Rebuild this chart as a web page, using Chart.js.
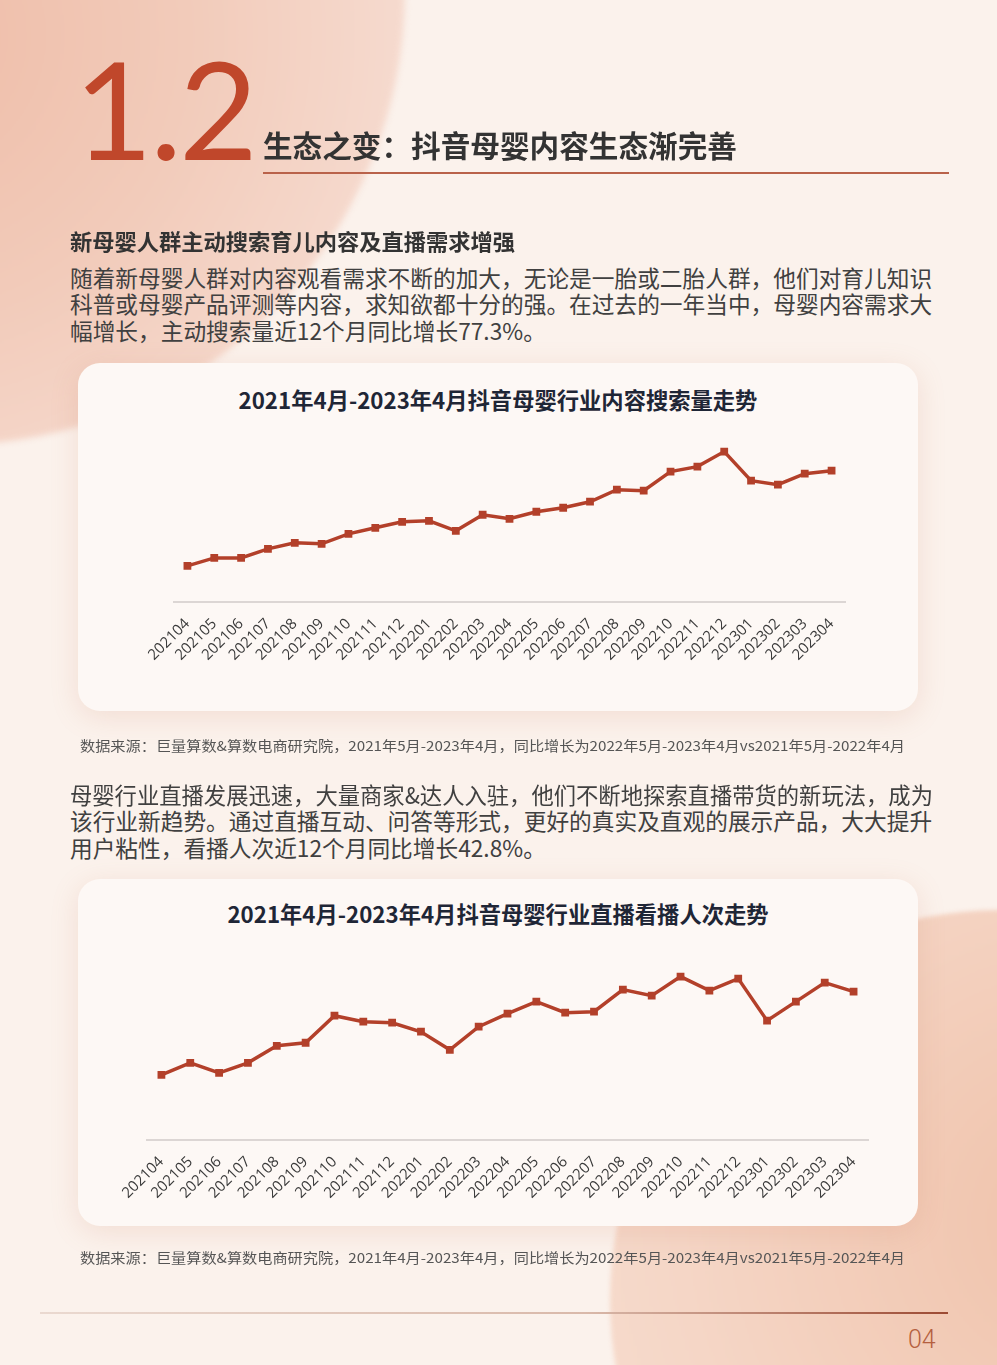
<!DOCTYPE html>
<html lang="zh-CN">
<head>
<meta charset="UTF-8" />
<title>抖音母婴内容生态</title>
<script src="https://cdn.jsdelivr.net/npm/chart.js"></script>
<style>
  html, body { margin: 0; padding: 0; }
  body {
    width: 997px; height: 1365px; position: relative; overflow: hidden;
    background: #fbf2ec;
    font-family: "Noto Sans CJK SC", "Noto Sans", sans-serif;
  }
  .blob { position: absolute; border-radius: 50%; }
  #blob1 {
    left: -505px; top: -465px; width: 910px; height: 910px; filter: blur(3px);
    background: radial-gradient(circle at 45% 55%, #efbca7 0%, #f2cbba 40%, #f6dcd1 75%, #f8e6dd 100%);
  }
  #blob2 {
    left: 610px; top: 910px; width: 780px; height: 780px; filter: blur(2px);
    background: radial-gradient(circle at 60% 40%, #f0c2aa 0%, #f5d6c6 60%, #f8e1d4 100%);
  }
  .abs { position: absolute; white-space: nowrap; }
  #num {
    left: 74px; top: 28px; font-family: Lato, "Open Sans", sans-serif; font-weight: 400;
    font-size: 136px; line-height: 160px; color: #c0472b; letter-spacing: -3px;
  }
  #title { left: 263px; top: 124px; font-size: 29.5px; line-height: 40px; font-weight: 700; color: #333; }
  #rule1 { position: absolute; left: 263px; top: 172px; width: 686px; height: 2px; background: #b9624a; }
  #sub { left: 70px; top: 224px; font-size: 22px; line-height: 32px; font-weight: 700; color: #333; }
  .para { left: 70px; font-size: 22.7px; line-height: 26.3px; color: #404040; }
  .para span { display: inline-block; transform-origin: left center; }
  #p1 { top: 265px; }
  #p2 { top: 782px; }
  .card {
    position: absolute; left: 78px; width: 840px; border-radius: 22px;
    background: #fdf8f5; box-shadow: 0 6px 28px rgba(205, 130, 100, 0.18);
  }
  #card1 { top: 363px; height: 348px; }
  #card2 { top: 879px; height: 347px; }
  .ctitle { left: 78px; width: 840px; text-align: center; font-size: 22.3px; line-height: 30px; font-weight: 700; color: #1f2636; }
  #ct1 { top: 384px; }
  #ct2 { top: 898px; }
  .note { left: 80px; font-size: 13.5px; line-height: 20px; color: #555; }
  #n1 { top: 735px; }
  #n2 { top: 1247px; }
  canvas { position: absolute; }
  #rule2 {
    position: absolute; left: 40px; top: 1312px; width: 908px; height: 2px;
    background: linear-gradient(to right, #ead9d0, #d9b9aa 60%, #9c4a33);
  }
  #page { left: 908px; top: 1323px; font-family: Roboto, sans-serif; font-weight: 300; font-size: 25px; line-height: 34px; color: #b5603f; }
</style>
</head>
<body>
  <div class="blob" id="blob1"></div>
  <div class="blob" id="blob2"></div>

  <div class="abs" id="num">1.2</div>
  <div class="abs" id="title">生态之变：抖音母婴内容生态渐完善</div>
  <div id="rule1"></div>

  <div class="abs" id="sub">新母婴人群主动搜索育儿内容及直播需求增强</div>
  <div class="abs para" id="p1">随着新母婴人群对内容观看需求不断的加大，无论是一胎或二胎人群，他们对育儿知识<br>科普或母婴产品评测等内容，求知欲都十分的强。在过去的一年当中，母婴内容需求大<br>幅增长，主动搜索量近12个月同比增长77.3%。</div>

  <div class="card" id="card1"></div>
  <div class="abs ctitle" id="ct1">2021年4月-2023年4月抖音母婴行业内容搜索量走势</div>
  <canvas id="chartSearch" style="left:78px; top:414px; width:840px; height:286px;"></canvas>
  <div class="abs note" id="n1">数据来源：巨量算数&amp;算数电商研究院，2021年5月-2023年4月，同比增长为2022年5月-2023年4月vs2021年5月-2022年4月</div>

  <div class="abs para" id="p2"><span id="p2a">母婴行业直播发展迅速，大量商家&amp;达人入驻，他们不断地探索直播带货的新玩法，成为</span><br>该行业新趋势。通过直播互动、问答等形式，更好的真实及直观的展示产品，大大提升<br>用户粘性，看播人次近12个月同比增长42.8%。</div>

  <div class="card" id="card2"></div>
  <div class="abs ctitle" id="ct2">2021年4月-2023年4月抖音母婴行业直播看播人次走势</div>
  <canvas id="chartLive" style="left:78px; top:934px; width:840px; height:281px;"></canvas>
  <div class="abs note" id="n2">数据来源：巨量算数&amp;算数电商研究院，2021年4月-2023年4月，同比增长为2022年5月-2023年4月vs2021年5月-2022年4月</div>

  <div id="rule2"></div>
  <div class="abs" id="page">04</div>

  <script>
    // 月份（横轴）
    const months = [
      '202104', '202105', '202106', '202107', '202108', '202109', '202110', '202111', '202112',
      '202201', '202202', '202203', '202204', '202205', '202206', '202207', '202208', '202209',
      '202210', '202211', '202212', '202301', '202302', '202303', '202304'
    ];

    // 内容搜索量（无刻度，按图中相对高度读取）
    const searchVolume = [36, 44, 44, 53, 59, 58, 68, 74, 80, 81, 71, 87, 83, 90, 94, 100, 112, 111, 130, 135, 150, 121, 117, 128, 131];

    // 直播看播人次（无刻度，按图中相对高度读取）
    const liveViews = [65, 77, 67, 77, 94, 97, 124, 118, 117, 108, 90, 113, 126, 138, 127, 128, 150, 144, 163, 149, 161, 119, 138, 157, 148];

    const lineColor = '#b3402a';

    // 文字宽度贴合参考图
    function fitWidth(id, w) {
      const el = document.getElementById(id);
      const real = el.getBoundingClientRect().width;
      el.style.transformOrigin = 'left center';
      el.style.transform = 'scaleX(' + (w / real) + ')';
    }

    function criarLinha(canvasId, values, yMax, padLeft, padRight, axisHeight) {
      return new Chart(document.getElementById(canvasId), {
        type: 'line',
        data: {
          labels: months,
          datasets: [{
            data: values,
            borderColor: lineColor,
            backgroundColor: lineColor,
            borderWidth: 3.5,
            tension: 0,
            pointStyle: 'rect',
            pointRadius: 5.5,
            pointHoverRadius: 5.5,
            pointBorderWidth: 0,
            pointBackgroundColor: lineColor
          }]
        },
        options: {
          responsive: false,
          animation: false,
          layout: { padding: { left: padLeft, right: padRight, top: 0, bottom: 0 } },
          plugins: { legend: { display: false }, tooltip: { enabled: false } },
          scales: {
            x: {
              offset: true,
              grid: { display: false },
              border: { display: true, color: '#dcd6d4', width: 2 },
              ticks: {
                minRotation: 45, maxRotation: 45, autoSkip: false, padding: 5,
                color: '#3a3a3a',
                font: { family: '"Open Sans", "Noto Sans", sans-serif', size: 15 }
              },
              afterFit: (scale) => { scale.height = axisHeight; }
            },
            y: { display: false, min: 0, max: yMax }
          }
        }
      });
    }

    function setSize(id, w, h) {
      const c = document.getElementById(id);
      c.width = w; c.height = h;
    }

    setSize('chartSearch', 840, 286);
    setSize('chartLive', 840, 281);

    criarLinha('chartSearch', searchVolume, 182, 96, 73, 98);
    criarLinha('chartLive', liveViews, 200, 69, 50, 75);

    fitWidth('title', 474);
    fitWidth('sub', 445);
    fitWidth('n1', 825);
    fitWidth('n2', 825);
    fitWidth('p2a', 863);
  </script>
</body>
</html>
